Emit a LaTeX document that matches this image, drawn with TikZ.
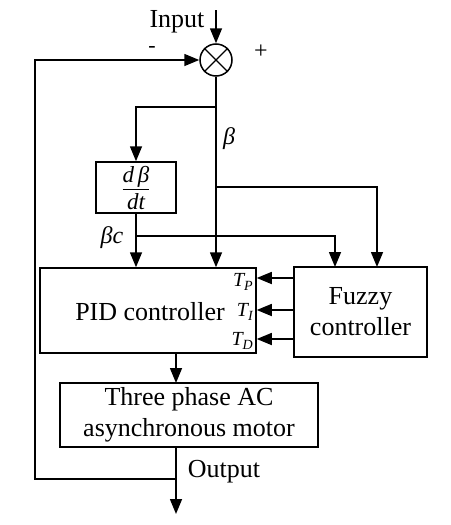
\documentclass[tikz,border=0pt]{standalone}
\usepackage{fontspec}
\setmainfont{Liberation Serif}
\usetikzlibrary{arrows.meta}
\begin{document}
\begin{tikzpicture}[x=1pt,y=-1pt,
  line width=1.5pt,
  arr/.style={-{Triangle[length=15pt,width=12pt]}},
  blk/.style={draw,rectangle,inner sep=0pt,align=center,font=\fontsize{26}{31}\selectfont},
  lbl/.style={inner sep=0pt,font=\fontsize{26}{30}\selectfont},
  tl/.style={inner sep=0pt,anchor=east,font=\fontsize{20}{22}\selectfont\itshape}]
\useasboundingbox (0,0) rectangle (450,525);
% nodes
\node[draw,circle,minimum size=32pt,inner sep=0pt] (sum) at (216,60) {};
\draw[line width=1.2pt] (sum.north west) -- (sum.south east) (sum.north east) -- (sum.south west);
\node[blk,minimum width=80pt,minimum height=51pt] (deriv) at (136,187.5) {};
\node[inner sep=0pt,font=\fontsize{23}{26}\selectfont] (derivt) at (136,188)
  {$\textit{d\,β}\vrule depth 5pt width 0pt\above1.2pt\vrule height 18pt width 0pt\textit{dt}$};
\node[blk,minimum width=216pt,minimum height=85pt] (pid) at (148,310.5) {};
\node[lbl] (pidt) at (150,312) {PID controller};
\node[blk,minimum width=133pt,minimum height=90pt] (fuzzy) at (360.5,312) {Fuzzy\\controller};
\node[blk,minimum width=258pt,minimum height=64pt] (motor) at (189,415) {Three phase AC\\asynchronous motor};
% labels
\node[lbl] (inp) at (177,22) {Input};
\node[inner sep=0pt,font=\fontsize{22}{24}\selectfont] (minus) at (152,49) {-};
\node[inner sep=0pt,font=\fontsize{24}{26}\selectfont] (plus) at (261,52) {+};
\node[inner sep=0pt,font=\fontsize{24}{26}\selectfont\itshape] (beta) at (229,139) {β};
\node[inner sep=0pt,font=\fontsize{24}{26}\selectfont\itshape] (betac) at (112,238) {βc};
\node[tl] (tp) at (254,282) {T\textsubscript{P}};
\node[tl] (ti) at (254,312) {T\textsubscript{I}};
\node[tl] (td) at (254,341) {T\textsubscript{D}};
\node[lbl] (outp) at (224,472) {Output};
% coordinates
\coordinate (in) at (216,10);
\coordinate (j1) at (216,107);
\coordinate (j2) at (216,187);
\coordinate (j3) at (136,236);
\coordinate (f1) at (335,267);
\coordinate (f2) at (377,267);
\coordinate (pout) at (176,353);
\coordinate (min) at (176,383);
\coordinate (j4) at (176,479);
\coordinate (out) at (176,514);
\coordinate (fb) at (35,479);
% connectors
\draw[arr] (in) -- (sum.north);
\draw (sum.south) -- (j1);
\draw[arr] (j1) -| (deriv.north);
\draw[arr] (j1) -- (j1 |- pid.north);
\draw[arr] (j2) -| (f2);
\draw[arr] (deriv.south) -- (deriv.south |- pid.north);
\draw[arr] (j3) -| (f1);
\draw[arr] (fuzzy.west |- tp) ++(0,-4) coordinate (a1) -- (pid.east |- a1);
\draw[arr] (fuzzy.west |- ti) ++(0,-2) coordinate (a2) -- (pid.east |- a2);
\draw[arr] (fuzzy.west |- td) ++(0,-2) coordinate (a3) -- (pid.east |- a3);
\draw[arr] (pout) -- (min);
\draw[arr] (motor.south -| min) -- (out);
\draw[arr] (j4) -- (fb) |- (sum.west);
\end{tikzpicture}
\end{document}
